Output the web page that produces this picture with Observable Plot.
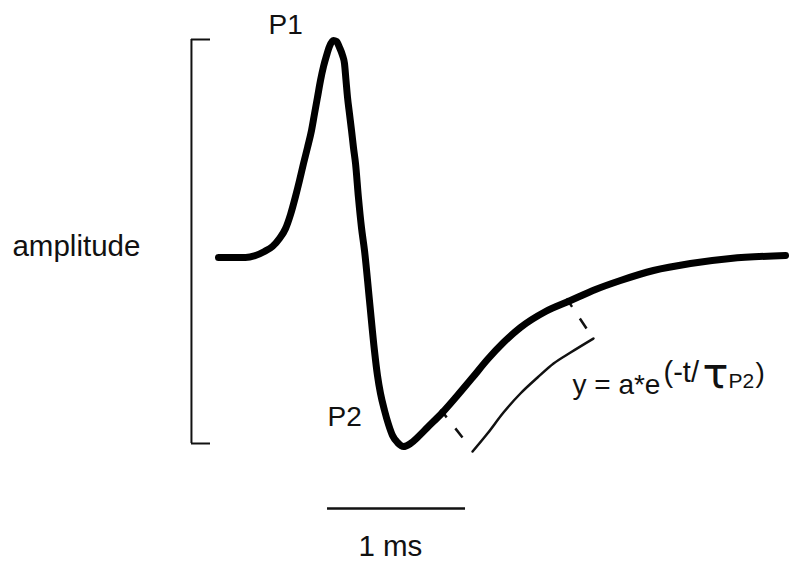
<!DOCTYPE html>
<html><head><meta charset="utf-8">
<script src="https://cdn.jsdelivr.net/npm/d3@7"></script>
<script src="https://cdn.jsdelivr.net/npm/@observablehq/plot@0.6"></script>
<style>html,body{margin:0;padding:0;background:#fff}</style>
</head><body><div id="chart"></div>
<script>
// Waveform (time in ms from trace start, amplitude in arbitrary units)
const traceTime = [0, 0.196, 0.268, 0.333, 0.391, 0.442, 0.486, 0.522, 0.558, 0.587,
  0.616, 0.645, 0.674, 0.696, 0.717, 0.739, 0.761, 0.783, 0.804, 0.833,
  0.855, 0.877, 0.899, 0.913, 0.924, 0.935, 0.949, 0.964, 0.978, 0.993,
  1.014, 1.036, 1.058, 1.094, 1.130, 1.152, 1.174, 1.203, 1.232, 1.261,
  1.297, 1.341, 1.391, 1.449, 1.514, 1.623, 1.725, 1.841, 1.949, 2.065,
  2.188, 2.370, 2.551, 2.732, 2.913, 3.152, 3.420, 3.710, 4.109];
const traceAmp = [0, 0, 0.02, 0.06, 0.11, 0.19, 0.29, 0.43, 0.61, 0.77,
  0.94, 1.10, 1.27, 1.44, 1.60, 1.77, 1.91, 2.02, 2.11, 2.17,
  2.16, 2.10, 2.02, 1.94, 1.77, 1.60, 1.44, 1.27, 1.10, 0.94,
  0.60, 0.30, 0.07, -0.43, -0.93, -1.18, -1.36, -1.53, -1.67, -1.78,
  -1.85, -1.89, -1.86, -1.79, -1.70, -1.55, -1.39, -1.20, -1.02, -0.85,
  -0.70, -0.54, -0.43, -0.32, -0.23, -0.13, -0.06, -0.01, 0.02];

// Exponential fit curve (drawn offset below the decay)
const fitTime = [1.841, 1.949, 2.065, 2.188, 2.312, 2.428, 2.551, 2.717];
const fitAmp  = [-1.94, -1.76, -1.55, -1.36, -1.20, -1.06, -0.95, -0.81];

// Dashed connectors marking the fitted interval
const connX1 = [1.609, 2.522];
const connY1 = [-1.52, -0.41];
const connX2 = [1.768, 2.667];
const connY2 = [-1.80, -0.71];

// Amplitude bracket (P1 to P2) and 1 ms scale bar
const bracketTime = -0.196;
const bracketTickTime = -0.058;
const bracketTop = 2.18;
const bracketBottom = -1.86;
const scaleBarStart = 0.790;
const scaleBarLength = 1; // ms
const scaleBarAmp = -2.51;

// Labels
const labelText = ["P1", "P2", "y = a*e", ")"];
const labelTime = [0.362, 0.790, 2.565, 3.891];
const labelAmp  = [2.24, -1.68, -1.36, -1.24];
const axisText = ["amplitude", "1 ms"];
const axisTime = [-1.493, 1.014];
const axisAmp = [0.02, -2.98];
const supText = ["(-t/"];
const supTime = [3.225];
const supAmp = [-1.24];
const tauText = ["τ"];
const tauTime = [3.507];
const tauAmp = [-1.30];
const subText = ["P2"];
const subTime = [3.696];
const subAmp = [-1.30];

const rows = (s, t, a) => s.map((d, i) => ({s: d, t: t[i], a: a[i]}));
const trace = traceTime.map((t, i) => ({t, a: traceAmp[i]}));
const fit = fitTime.map((t, i) => ({t, a: fitAmp[i]}));
const conns = connX1.map((x1, i) => ({x1, y1: connY1[i], x2: connX2[i], y2: connY2[i]}));

const W = 800, H = 561;
const pxPerMs = 138, originX = 218, pxPerUnit = 100, baselineY = 257;

const font = "'Liberation Sans', Arial, Helvetica, sans-serif";
const txt = {x: "t", y: "a", text: "s", textAnchor: "start", lineAnchor: "bottom", fontFamily: font, fill: "#111"};

const chart = Plot.plot({
  width: W,
  height: H,
  margin: 0,
  style: {background: "#fff", overflow: "visible"},
  x: {domain: [-originX / pxPerMs, (W - originX) / pxPerMs], range: [0, W], axis: null},
  y: {domain: [(baselineY - H) / pxPerUnit, baselineY / pxPerUnit], range: [H, 0], axis: null},
  marks: [
    Plot.ruleX([bracketTime], {y1: bracketBottom, y2: bracketTop, stroke: "#111", strokeWidth: 2}),
    Plot.ruleY([bracketTop, bracketBottom], {x1: bracketTime, x2: bracketTickTime, stroke: "#111", strokeWidth: 2}),
    Plot.ruleY([scaleBarAmp], {x1: scaleBarStart, x2: scaleBarStart + scaleBarLength, stroke: "#111", strokeWidth: 2.5}),
    Plot.link(conns, {x1: "x1", y1: "y1", x2: "x2", y2: "y2", stroke: "#111", strokeWidth: 2.5, strokeDasharray: "10,14,12"}),
    Plot.line(fit, {x: "t", y: "a", stroke: "#111", strokeWidth: 2.5, curve: "monotone-x"}),
    Plot.line(trace, {x: "t", y: "a", stroke: "#000", strokeWidth: 7, curve: "monotone-x", strokeLinejoin: "round"}),
    Plot.text(rows(labelText, labelTime, labelAmp), {...txt, fontSize: 28}),
    Plot.text(rows(axisText, axisTime, axisAmp), {...txt, fontSize: 29.5}),
    Plot.text(rows(supText, supTime, supAmp), {...txt, fontSize: 29}),
    Plot.text(rows(tauText, tauTime, tauAmp), {...txt, fontSize: 43, fontFamily: "'DejaVu Sans', sans-serif"}),
    Plot.text(rows(subText, subTime, subAmp), {...txt, fontSize: 21})
  ]
});
document.getElementById("chart").appendChild(chart);
</script>
</body></html>
